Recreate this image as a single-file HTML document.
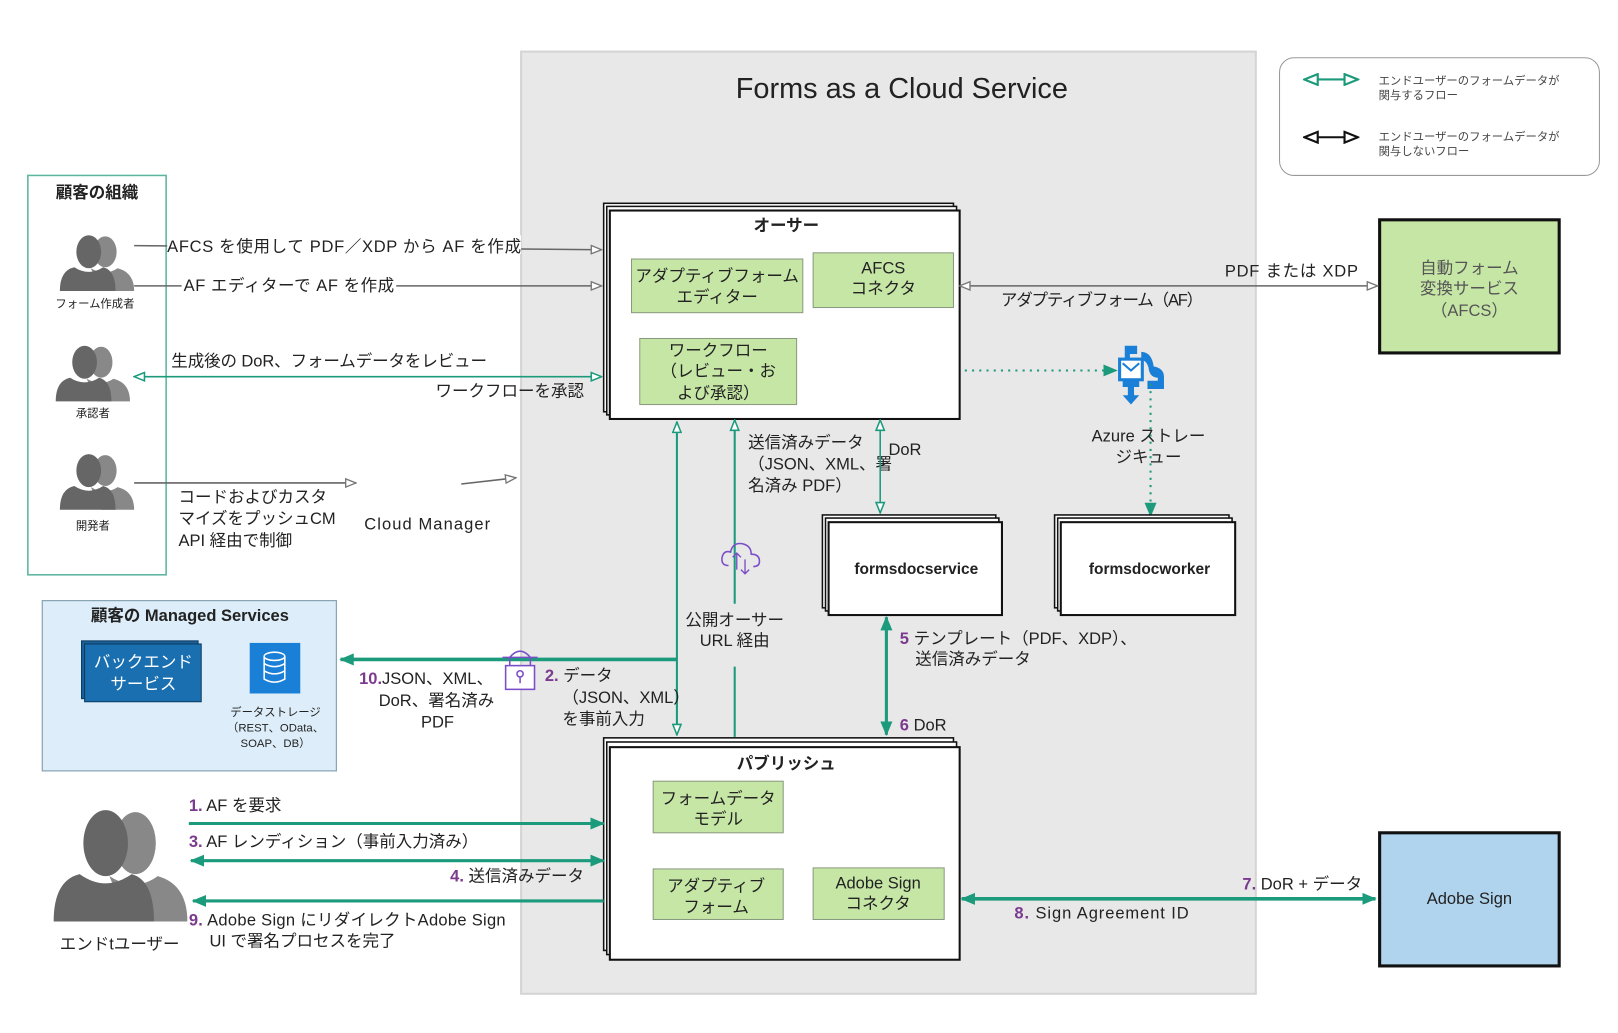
<!DOCTYPE html>
<html><head><meta charset="utf-8"><style>
html,body{margin:0;padding:0;background:#fff}
svg{display:block}
text{font-family:"Liberation Sans","Noto Sans CJK JP",sans-serif;fill:#222}
.s{font-size:16px}.b{font-weight:bold}.m{text-anchor:middle}.e{text-anchor:end}
.n{fill:#7b3a8e;font-weight:bold}
</style></head><body>
<svg width="1618" height="1033" viewBox="0 0 1568 1001" preserveAspectRatio="none" xmlns="http://www.w3.org/2000/svg">
<defs>
<marker id="og" viewBox="0 0 12 10" refX="11" refY="5" markerWidth="12" markerHeight="10" markerUnits="userSpaceOnUse" orient="auto-start-reverse"><path d="M1,1 L11,5 L1,9 Z" fill="#fff" stroke="#777" stroke-width="1.3"/></marker>
<marker id="ob" viewBox="0 0 12 10" refX="11" refY="5" markerWidth="16" markerHeight="13" markerUnits="userSpaceOnUse" orient="auto-start-reverse"><path d="M1,1 L11,5 L1,9 Z" fill="#fff" stroke="#111" stroke-width="1.6"/></marker>
<marker id="ol" viewBox="0 0 12 10" refX="11" refY="5" markerWidth="16" markerHeight="13" markerUnits="userSpaceOnUse" orient="auto-start-reverse"><path d="M1,1 L11,5 L1,9 Z" fill="#fff" stroke="#1b9a7c" stroke-width="1.6"/></marker>
<marker id="ot" viewBox="0 0 12 10" refX="11" refY="5" markerWidth="12" markerHeight="10" markerUnits="userSpaceOnUse" orient="auto-start-reverse"><path d="M1,1 L11,5 L1,9 Z" fill="#fff" stroke="#1b9a7c" stroke-width="1.5"/></marker>
<marker id="ft" viewBox="0 0 12 10" refX="11" refY="5" markerWidth="14" markerHeight="12" markerUnits="userSpaceOnUse" orient="auto-start-reverse"><path d="M0,0 L12,5 L0,10 Z" fill="#1b9a7c"/></marker>
<g id="ppl"><ellipse cx="44" cy="16" rx="11" ry="15" fill="#888"/><path d="M30,32 Q44,40 56,32 Q72,36 72,54 L40,54Z" fill="#888"/><ellipse cx="28" cy="16" rx="12" ry="16" fill="#666"/><path d="M0,54 Q0,34 14,31 Q28,40 42,31 Q54,34 54,54Z" fill="#666"/></g>
</defs>
<rect width="1568" height="1001" fill="#fff"/>
<rect x="505" y="50" width="712" height="913" fill="#e8e8e8" stroke="#d4d4d4" stroke-width="2"/>
<text x="874" y="95" class="m" style="font-size:28px">Forms as a Cloud Service</text>

<rect x="1240" y="56" width="310" height="114" rx="14" fill="#fff" stroke="#999"/>
<line x1="1264" y1="77" x2="1316" y2="77" stroke="#1b9a7c" stroke-width="2" marker-start="url(#ol)" marker-end="url(#ol)"/>
<line x1="1264" y1="133" x2="1316" y2="133" stroke="#111" stroke-width="2" marker-start="url(#ob)" marker-end="url(#ob)"/>
<text x="1336" y="82" style="font-size:11px;fill:#444">エンドユーザーのフォームデータが</text>
<text x="1336" y="96" style="font-size:11px;fill:#444">関与するフロー</text>
<text x="1336" y="136" style="font-size:11px;fill:#444">エンドユーザーのフォームデータが</text>
<text x="1336" y="150" style="font-size:11px;fill:#444">関与しないフロー</text>

<rect x="27" y="170" width="134" height="387" fill="#fff" stroke="#5bb59f" stroke-width="1.5"/>
<text x="94" y="192" class="m b s">顧客の組織</text>
<use href="#ppl" transform="translate(58,228)"/>
<use href="#ppl" transform="translate(54,335)"/>
<use href="#ppl" transform="translate(58,440)"/>
<text x="92" y="298" class="m" style="font-size:11px">フォーム作成者</text>
<text x="90" y="404" class="m" style="font-size:11px">承認者</text>
<text x="90" y="513" class="m" style="font-size:11px">開発者</text>

<line x1="130" y1="238" x2="583" y2="242" stroke="#666" stroke-width="1.5" marker-end="url(#og)"/>
<rect x="162" y="228" width="343" height="18" fill="#fff"/>
<text x="162" y="244" class="s" textLength="343">AFCS を使用して PDF／XDP から AF を作成</text>
<line x1="130" y1="277" x2="583" y2="277" stroke="#666" stroke-width="1.5" marker-end="url(#og)"/>
<rect x="176" y="267" width="208" height="18" fill="#fff"/>
<text x="178" y="282" class="s" textLength="204">AF エディターで AF を作成</text>
<line x1="130" y1="365" x2="583" y2="365" stroke="#1b9a7c" stroke-width="1.5" marker-start="url(#ot)" marker-end="url(#ot)"/>
<text x="166" y="355" class="s" textLength="306">生成後の DoR、フォームデータをレビュー</text>
<text x="566" y="384" class="s e">ワークフローを承認</text>
<line x1="130" y1="468" x2="345" y2="468" stroke="#666" stroke-width="1.5" marker-end="url(#og)"/>
<line x1="447" y1="469" x2="500" y2="463" stroke="#666" stroke-width="1.5" marker-end="url(#og)"/>
<text x="173" y="487" class="s">コードおよびカスタ</text>
<text x="173" y="508" class="s">マイズをプッシュCM</text>
<text x="173" y="529" class="s">API 経由で制御</text>
<text x="353" y="513" class="s" textLength="122">Cloud Manager</text>

<rect x="585" y="197" width="339" height="202" fill="#fff" stroke="#111" stroke-width="1.5"/>
<rect x="588" y="200" width="339" height="202" fill="#fff" stroke="#111" stroke-width="1.5"/>
<rect x="591" y="204" width="339" height="202" fill="#fff" stroke="#111" stroke-width="2"/>
<text x="762" y="224" class="m b s">オーサー</text>
<g fill="#c6e6a6" stroke="#8a9a80">
<rect x="612" y="251" width="166" height="52"/><rect x="788" y="245" width="136" height="53"/><rect x="620" y="328" width="152" height="64"/>
</g>
<text x="695" y="273" class="m s">アダプティブフォーム</text><text x="695" y="293" class="m s">エディター</text>
<text x="856" y="265" class="m s">AFCS</text><text x="856" y="285" class="m s">コネクタ</text>
<text x="696" y="345" class="m s">ワークフロー</text><text x="696" y="365" class="m s">（レビュー・お</text><text x="696" y="386" class="m s">よび承認）</text>

<rect x="1337" y="213" width="174" height="129" fill="#c6e6a6" stroke="#111" stroke-width="3"/>
<text x="1424" y="265" class="m s" style="fill:#555">自動フォーム</text>
<text x="1424" y="285" class="m s" style="fill:#555">変換サービス</text>
<text x="1424" y="306" class="m s" style="fill:#555">（AFCS）</text>
<line x1="930" y1="277" x2="1335" y2="277" stroke="#666" stroke-width="1.5" marker-start="url(#og)" marker-end="url(#og)"/>
<text x="1316" y="268" class="s e" textLength="129">PDF または XDP</text>
<text x="970" y="296" class="s" textLength="196">アダプティブフォーム（AF）</text>

<line x1="935" y1="359" x2="1082" y2="359" stroke="#1b9a7c" stroke-width="2" stroke-dasharray="2,5" marker-end="url(#ft)"/>
<g fill="#1a7fd6">
<path d="M1090,335 h12 v8 h-7 v6 h-5z"/><path d="M1106,341 q10,0 12,14 q10,2 10,10 v12 h-16 v-8 h10 v-3 q-8,0 -9,-10 q-2,-7 -7,-7z"/>
<rect x="1085" y="348" width="22" height="20" fill="#fff" stroke="#1a7fd6" stroke-width="3"/>
<path d="M1088,352 l8,7 l8,-7" fill="none" stroke="#1a7fd6" stroke-width="2"/>
<path d="M1088,369 h16 v6 h-5 v8 h5 l-8,9 l-8,-9 h5 v-8 h-5z"/>
</g>
<line x1="1115" y1="372" x2="1115" y2="500" stroke="#1b9a7c" stroke-width="2" stroke-dasharray="2,5" marker-end="url(#ft)"/>
<text x="1113" y="428" class="m s">Azure ストレー</text>
<text x="1113" y="448" class="m s">ジキュー</text>

<rect x="797" y="499" width="168" height="90" fill="#fff" stroke="#111" stroke-width="1.5"/>
<rect x="800" y="502" width="168" height="90" fill="#fff" stroke="#111" stroke-width="1.5"/>
<rect x="803" y="506" width="168" height="90" fill="#fff" stroke="#111" stroke-width="2"/>
<text x="888" y="556" class="m b" style="font-size:15px">formsdocservice</text>
<rect x="1022" y="499" width="169" height="90" fill="#fff" stroke="#111" stroke-width="1.5"/>
<rect x="1025" y="502" width="169" height="90" fill="#fff" stroke="#111" stroke-width="1.5"/>
<rect x="1028" y="506" width="169" height="90" fill="#fff" stroke="#111" stroke-width="2"/>
<text x="1114" y="556" class="m b" style="font-size:15px">formsdocworker</text>

<line x1="656" y1="409" x2="656" y2="712" stroke="#1b9a7c" stroke-width="2" marker-start="url(#ot)" marker-end="url(#ot)"/>
<line x1="712" y1="407" x2="712" y2="585" stroke="#1b9a7c" stroke-width="2" marker-start="url(#ot)"/>
<line x1="712" y1="646" x2="712" y2="714" stroke="#1b9a7c" stroke-width="2"/>
<path d="M706,548 q-8,0 -6,-9 q2,-6 8,-4 q2,-10 12,-8 q8,2 8,10 q8,0 8,7 q0,5 -6,5" fill="none" stroke="#7a4ec7" stroke-width="1.5"/>
<path d="M714,536 v16 M710,540 l4,-4 l4,4 M722,542 v14 M718,552 l4,4 l4,-4" fill="none" stroke="#7a4ec7" stroke-width="1.3"/>
<text x="712" y="606" class="m s">公開オーサー</text>
<text x="712" y="626" class="m s">URL 経由</text>
<text x="725" y="434" class="s">送信済みデータ</text>
<text x="725" y="455" class="s">（JSON、XML、署</text>
<text x="725" y="476" class="s">名済み PDF）</text>
<line x1="853" y1="407" x2="853" y2="497" stroke="#1b9a7c" stroke-width="1.5" marker-start="url(#ot)" marker-end="url(#ot)"/>
<text x="861" y="441" class="s">DoR</text>
<line x1="859" y1="598" x2="859" y2="712" stroke="#1b9a7c" stroke-width="3" marker-start="url(#ft)" marker-end="url(#ft)"/>
<text x="872" y="624" class="s"><tspan class="n">5</tspan> テンプレート（PDF、XDP）、</text>
<text x="887" y="644" class="s">送信済みデータ</text>
<text x="872" y="708" class="s"><tspan class="n">6</tspan> DoR</text>

<line x1="656" y1="639" x2="330" y2="639" stroke="#1b9a7c" stroke-width="3.5" marker-end="url(#ft)"/>
<rect x="41" y="582" width="285" height="165" fill="#ddeefa" stroke="#8aa4b4" stroke-width="1.2"/>
<text x="184" y="602" class="m b s">顧客の Managed Services</text>
<rect x="79" y="621" width="113" height="56" fill="#1a5f98" stroke="#0c3a60"/>
<rect x="82" y="624" width="113" height="56" fill="#1a6fb0" stroke="#0c3a60"/>
<text x="139" y="647" class="m s" style="fill:#fff">バックエンド</text>
<text x="139" y="668" class="m s" style="fill:#fff">サービス</text>
<rect x="242" y="623" width="49" height="49" fill="#1a7fd6"/>
<g fill="none" stroke="#fff" stroke-width="1.5"><ellipse cx="266" cy="636" rx="10" ry="4"/><path d="M256,636 v22 q10,6 20,0 v-22 M256,643 q10,6 20,0 M256,650 q10,6 20,0"/></g>
<text x="267" y="694" class="m" style="font-size:11px">データストレージ</text>
<text x="267" y="709" class="m" style="font-size:11px">（REST、OData、</text>
<text x="267" y="724" class="m" style="font-size:11px">SOAP、DB）</text>
<g fill="none" stroke="#7a4ec7" stroke-width="1.5"><path d="M494,645 v-8 q10,-12 20,0 v8 M487,637 h34"/><rect x="490" y="645" width="28" height="23" fill="#fff"/><circle cx="504" cy="653" r="3"/><path d="M504,656 v6"/></g>
<text x="348" y="663" class="s"><tspan class="n">10.</tspan>JSON、XML、</text>
<text x="367" y="684" class="s">DoR、署名済み</text>
<text x="424" y="705" class="m s">PDF</text>
<text x="528" y="660" class="s"><tspan class="n">2.</tspan> データ</text>
<text x="545" y="681" class="s">（JSON、XML）</text>
<text x="545" y="702" class="s">を事前入力</text>

<rect x="585" y="715" width="339" height="206" fill="#fff" stroke="#111" stroke-width="1.5"/>
<rect x="588" y="719" width="339" height="206" fill="#fff" stroke="#111" stroke-width="1.5"/>
<rect x="591" y="724" width="339" height="206" fill="#fff" stroke="#111" stroke-width="2"/>
<text x="762" y="745" class="m b s">パブリッシュ</text>
<g fill="#c6e6a6" stroke="#8a9a80">
<rect x="633" y="757" width="126" height="50"/><rect x="633" y="842" width="126" height="49"/><rect x="788" y="841" width="127" height="50"/>
</g>
<text x="696" y="779" class="m s">フォームデータ</text><text x="696" y="799" class="m s">モデル</text>
<text x="694" y="864" class="m s">アダプティブ</text><text x="694" y="884" class="m s">フォーム</text>
<text x="851" y="861" class="m s">Adobe Sign</text><text x="851" y="881" class="m s">コネクタ</text>

<use href="#ppl" transform="translate(52,785) scale(1.8,2)"/>
<text x="116" y="920" class="m s">エンドtユーザー</text>
<line x1="183" y1="798" x2="585" y2="798" stroke="#1b9a7c" stroke-width="3" marker-end="url(#ft)"/>
<text x="183" y="786" class="s"><tspan class="n">1.</tspan> AF を要求</text>
<line x1="185" y1="834" x2="585" y2="834" stroke="#1b9a7c" stroke-width="3" marker-start="url(#ft)" marker-end="url(#ft)"/>
<text x="183" y="821" class="s"><tspan class="n">3.</tspan> AF レンディション（事前入力済み）</text>
<text x="566" y="854" class="s e"><tspan class="n">4.</tspan> 送信済みデータ</text>
<line x1="585" y1="873" x2="187" y2="873" stroke="#1b9a7c" stroke-width="3" marker-end="url(#ft)"/>
<text x="183" y="897" class="s" textLength="307"><tspan class="n">9.</tspan> Adobe Sign にリダイレクトAdobe Sign</text>
<text x="203" y="917" class="s">UI で署名プロセスを完了</text>

<line x1="932" y1="871" x2="1333" y2="871" stroke="#1b9a7c" stroke-width="3.5" marker-start="url(#ft)" marker-end="url(#ft)"/>
<text x="1320" y="862" class="s e"><tspan class="n">7.</tspan> DoR + データ</text>
<text x="983" y="890" class="s" textLength="169"><tspan class="n">8.</tspan> Sign Agreement ID</text>
<rect x="1337" y="807" width="174" height="129" fill="#b0d4ee" stroke="#111" stroke-width="3"/>
<text x="1424" y="876" class="m s">Adobe Sign</text>
</svg>
</body></html>
